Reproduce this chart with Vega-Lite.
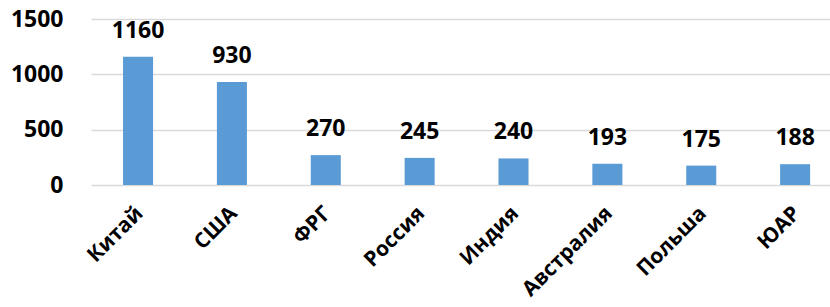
{
  "$schema": "https://vega.github.io/schema/vega-lite/v6.json",
  "autosize": "none",
  "width": 739,
  "height": 166,
  "padding": {"left": 91, "top": 19, "right": 0, "bottom": 122},
  "background": "white",
  "config": {"view": {"stroke": null}, "font": "Open Sans"},
  "data": {"values": [
    {"country": "Китай", "value": 1160},
    {"country": "США", "value": 930},
    {"country": "ФРГ", "value": 270},
    {"country": "Россия", "value": 245},
    {"country": "Индия", "value": 240},
    {"country": "Австралия", "value": 193},
    {"country": "Польша", "value": 175},
    {"country": "ЮАР", "value": 188}
  ]},
  "encoding": {
    "x": {"field": "country", "type": "nominal", "sort": null,
      "scale": {"paddingInner": 0.68, "paddingOuter": 0.2765, "align": 0.617},
      "axis": {"title": null, "labelAngle": -45, "labelAlign": "right", "labelBaseline": "middle",
        "labelFont": "Open Sans", "labelFontSize": 21, "labelFontWeight": "bold", "labelColor": "#000000",
        "labelPadding": 25, "ticks": false, "domain": false, "labelOffset": 2}},
    "y": {"field": "value", "type": "quantitative",
      "scale": {"domain": [0, 1500], "nice": false},
      "axis": {"title": null, "values": [0, 500, 1000, 1500], "format": "d", "ticks": false, "domain": false,
        "labelFont": "Open Sans", "labelFontSize": 23, "labelFontWeight": "bold", "labelColor": "#000000",
        "labelPadding": 28, "grid": true, "gridColor": "#d9d9d9", "gridWidth": 1.3}}
  },
  "layer": [
    {"mark": {"type": "bar", "color": "#5B9BD5"}},
    {"mark": {"type": "text", "dy": -19, "baseline": "alphabetic", "font": "Open Sans", "fontSize": 23, "fontWeight": "bold", "color": "#000000"},
     "encoding": {"text": {"field": "value", "type": "quantitative"}}}
  ]
}
